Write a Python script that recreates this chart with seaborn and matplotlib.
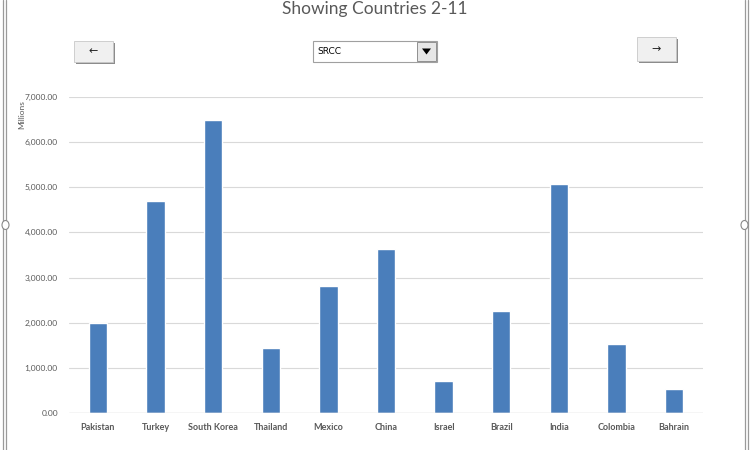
import matplotlib
matplotlib.use("Agg")
import matplotlib.pyplot as plt
import seaborn as sns
import pandas as pd
from matplotlib.patches import Rectangle, Polygon
from matplotlib.lines import Line2D

countries = ["Pakistan", "Turkey", "South Korea", "Thailand", "Mexico", "China",
             "Israel", "Brazil", "India", "Colombia", "Bahrain"]
values = [2000, 4690, 6500, 1440, 2820, 3640, 700, 2270, 5080, 1530, 530]
yticks = [0, 1000, 2000, 3000, 4000, 5000, 6000, 7000]
title = "Showing Countries 2-11"
dropdown_text = "SRCC"

sns.set_theme(style="white")
plt.rcParams['font.family'] = ['Lato', 'DejaVu Sans']

W, H = 750, 450
fig = plt.figure(figsize=(7.5, 4.5), dpi=100)
ax = fig.add_axes([69 / W, 1 - 413 / H, (703 - 69) / W, (413 - 97) / H])

df = pd.DataFrame({"country": countries, "value": values})
sns.barplot(data=df, x="country", y="value", color="#4a7ebb", width=0.32,
            saturation=1, ax=ax, zorder=3)
ax.set_ylim(0, 7000)
ax.set_yticks(yticks)
ax.set_yticklabels([f"{v:,.2f}" for v in yticks], fontsize=6, color="#595959")
ax.set_xlabel("")
ax.set_ylabel("")
for lbl in ax.get_xticklabels():
    lbl.set_fontsize(6.5)
    lbl.set_fontweight("bold")
    lbl.set_color("#595959")
ax.tick_params(axis="both", length=0, pad=8)
ax.tick_params(axis="x", pad=7)
ax.grid(axis="y", color="#d9d9d9", linewidth=0.8, zorder=0)
for s in ax.spines.values():
    s.set_visible(False)
ax.axhline(0, color="#d9d9d9", linewidth=1, zorder=4)

fig.text(22 / W, 1 - 115 / H, "Millions", rotation=90, fontsize=6, color="#595959",
         ha="center", va="center")

fig.text(0.5, 1 - 1 / H, title, fontsize=12.5, color="#595959", ha="center", va="top")

def fx(x):
    return x / W

def fy(y):
    return 1 - y / H

def button(x0, y0, x1, y1, label):
    fig.patches.append(Rectangle((fx(x0) + 1.5 / W, fy(y1) - 1.5 / H), fx(x1) - fx(x0), fy(y0) - fy(y1),
                                 transform=fig.transFigure, facecolor="#8c8c8c", edgecolor="none"))
    fig.patches.append(Rectangle((fx(x0), fy(y1)), fx(x1) - fx(x0), fy(y0) - fy(y1),
                                 transform=fig.transFigure, facecolor="#f0f0f0", edgecolor="#c8c8c8",
                                 linewidth=0.6))
    fig.text((fx(x0) + fx(x1)) / 2, (fy(y0) + fy(y1)) / 2, label, fontsize=8, color="#222222",
             ha="center", va="center", family="DejaVu Sans")

button(74, 41, 113, 62, "\u2190")
button(637, 37, 676, 61, "\u2192")

# dropdown
fig.patches.append(Rectangle((fx(313), fy(62)), fx(437) - fx(313), fy(41) - fy(62),
                             transform=fig.transFigure, facecolor="white", edgecolor="#a0a0a0",
                             linewidth=0.8))
fig.patches.append(Rectangle((fx(417), fy(61)), fx(436) - fx(417), fy(42) - fy(61),
                             transform=fig.transFigure, facecolor="#e6e6e6", edgecolor="#808080",
                             linewidth=0.6))
fig.patches.append(Polygon([(fx(422), fy(48.5)), (fx(431), fy(48.5)), (fx(426.5), fy(54.5))],
                           closed=True, transform=fig.transFigure, facecolor="black",
                           edgecolor="none"))
fig.text(fx(317), (fy(41) + fy(62)) / 2, dropdown_text, fontsize=6.5, color="black",
         ha="left", va="center", family="DejaVu Sans")

# window frame lines
for xpix in (2.5, 5.5, 744.5, 747.5):
    fig.lines.append(Line2D([fx(xpix), fx(xpix)], [0, 1], transform=fig.transFigure,
                            color="#9a9a9a", linewidth=0.9))
for xpix in (5.5, 744.5):
    fig.patches.append(matplotlib.patches.Ellipse((fx(xpix), fy(225)), 7 / W, 9 / H,
                                                  transform=fig.transFigure, facecolor="white",
                                                  edgecolor="#8a8a8a", linewidth=0.8, zorder=5))

fig.savefig("out.png", dpi=100, facecolor="white")
